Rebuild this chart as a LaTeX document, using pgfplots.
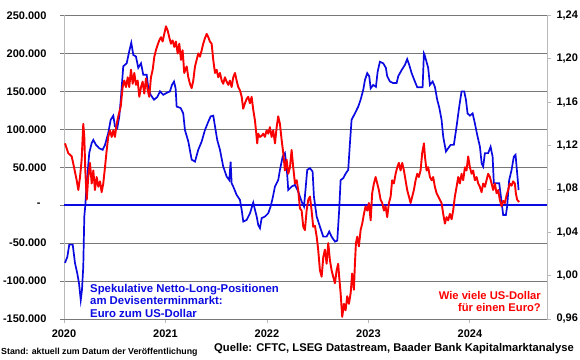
\documentclass[border=0pt]{standalone}
\usepackage{pgfplots}
\pgfplotsset{compat=1.18}
\usepackage{fontspec}
\setmainfont{Liberation Sans}
\definecolor{cblue}{RGB}{10,10,225}
\definecolor{cred}{RGB}{250,0,0}
\definecolor{gridgray}{RGB}{120,120,120}
\definecolor{axgray}{RGB}{185,185,185}
\begin{document}
\begin{tikzpicture}[x=1pt,y=1pt]
\useasboundingbox (0,0) rectangle (580,359);
\begin{axis}[
 at={(64pt,40pt)}, anchor=south west,
 width=483pt, height=303.5pt, scale only axis,
 xmin=2020, xmax=2024.76,
 ymin=-150000, ymax=250000,
 xtick={2020,2021,2022,2023,2024},
 xticklabels={2020,2021,2022,2023,2024},
 ytick={-150000,-100000,-50000,0,50000,100000,150000,200000,250000},
 yticklabels={-150.000,-100.000,-50.000,{-\hspace*{6pt}},50.000,100.000,150.000,200.000,250.000},
 scaled y ticks=false,
 ymajorgrids, grid style={gridgray, line width=0.7pt},
 axis x line*=bottom, axis y line*=left,
 x axis line style={gridgray, line width=0.7pt, -},
 y axis line style={axgray, line width=0.8pt, -},
 xtick style={axgray, line width=0.8pt},
 ytick style={gridgray, line width=0.7pt},
 tick align=outside, major tick length=4pt,
 ticklabel style={font=\bfseries\fontsize{11}{13}\selectfont},
 yticklabel style={xshift=-10pt},
 xticklabel style={yshift=-3pt},
]
\addplot[cblue, line width=1.5pt] coordinates {(2020,0) (2024.76,0)};
\addplot[cblue, line width=1.7pt] coordinates {
(2020.010,-76000) (2020.033,-68000) (2020.052,-52000) (2020.086,-52000) (2020.108,-76000)
(2020.131,-90000) (2020.148,-103000) (2020.165,-125000) (2020.177,-112000) (2020.190,-81000)
(2020.200,-15000) (2020.210,0) (2020.224,29000) (2020.249,69000) (2020.273,82000)
(2020.289,86000) (2020.315,79500) (2020.348,75000) (2020.381,73000) (2020.404,79500)
(2020.436,95000) (2020.460,112500) (2020.486,118000) (2020.502,104000) (2020.525,101500)
(2020.545,117000) (2020.562,143000) (2020.584,183000) (2020.618,187000) (2020.643,203000)
(2020.663,214000) (2020.683,198000) (2020.709,196000) (2020.732,181000) (2020.759,187000)
(2020.781,172000) (2020.815,172000) (2020.831,154000) (2020.854,145500) (2020.887,139000)
(2020.919,142500) (2020.946,150000) (2020.978,145500) (2021.012,148000) (2021.044,150000)
(2021.064,158500) (2021.084,163000) (2021.100,154000) (2021.110,130000) (2021.150,128000)
(2021.175,121000) (2021.192,99000) (2021.225,84000) (2021.258,60000) (2021.291,57500)
(2021.323,73000) (2021.357,84000) (2021.389,99000) (2021.422,110000) (2021.445,117000)
(2021.471,118000) (2021.488,104000) (2021.510,86000) (2021.537,73000) (2021.569,51000)
(2021.603,37700) (2021.629,33000) (2021.642,57500) (2021.652,29000) (2021.668,24500)
(2021.701,13600) (2021.734,7000) (2021.751,-6200) (2021.767,-21600) (2021.800,-19400)
(2021.833,-10600) (2021.865,3400) (2021.882,-6200) (2021.899,-15000) (2021.914,-26000)
(2021.931,-30300) (2021.948,-17000) (2021.980,-15000) (2022.013,-10600) (2022.036,-1800)
(2022.056,9200) (2022.079,24500) (2022.111,33000) (2022.128,46500) (2022.155,64000)
(2022.177,68600) (2022.194,51000) (2022.210,20000) (2022.243,24500) (2022.276,26800)
(2022.308,18000) (2022.342,4700) (2022.365,-1800) (2022.374,11300) (2022.397,46500)
(2022.424,48800) (2022.450,44300) (2022.463,11300) (2022.490,-15000) (2022.522,-28200)
(2022.555,-41400) (2022.588,-41400) (2022.614,-34800) (2022.637,-41400) (2022.670,-48000)
(2022.693,-46700) (2022.712,-6200) (2022.726,33000) (2022.752,35600) (2022.778,42200)
(2022.801,46500) (2022.818,82000) (2022.834,112500) (2022.867,121000) (2022.900,130000)
(2022.923,139000) (2022.949,152000) (2022.966,165000) (2022.988,174000) (2023.008,170000)
(2023.022,154000) (2023.047,158500) (2023.074,156000) (2023.091,176000) (2023.113,189000)
(2023.146,187000) (2023.172,181000) (2023.185,170000) (2023.212,163000) (2023.244,161000)
(2023.278,161000) (2023.294,170000) (2023.327,178000) (2023.360,185000) (2023.382,192500)
(2023.402,185000) (2023.426,174000) (2023.458,163000) (2023.481,155500) (2023.534,155500)
(2023.547,200000) (2023.554,198000) (2023.589,181000) (2023.606,158500) (2023.633,163000)
(2023.655,156000) (2023.678,139000) (2023.698,128800) (2023.721,112500) (2023.737,90500)
(2023.764,70700) (2023.786,75000) (2023.810,79500) (2023.842,79500) (2023.869,104000)
(2023.895,130000) (2023.918,150000) (2023.944,150000) (2023.961,139000) (2023.977,121000)
(2024.000,118000) (2024.027,121000) (2024.049,108000) (2024.072,92700) (2024.099,77000)
(2024.116,55000) (2024.131,51000) (2024.148,68600) (2024.180,68600) (2024.204,77000)
(2024.224,64000) (2024.236,29000) (2024.289,29000) (2024.312,4700) (2024.328,-12800)
(2024.355,-12800) (2024.367,-1800) (2024.387,33000) (2024.411,46500) (2024.433,64000)
(2024.450,66300) (2024.466,42200) (2024.480,20000)
};
\end{axis}
\begin{axis}[
 at={(64pt,40pt)}, anchor=south west,
 width=483pt, height=303.5pt, scale only axis,
 xmin=2020, xmax=2024.76,
 ymin=0.96, ymax=1.24,
 axis x line=none, axis y line*=right,
 ytick={0.96,1.00,1.04,1.08,1.12,1.16,1.20,1.24},
 yticklabels={{0,96},{1,00},{1,04},{1,08},{1,12},{1,16},{1,20},{1,24}},
 y axis line style={axgray, line width=0.8pt, -},
 tick style={axgray, line width=0.8pt},
 tick align=outside, major tick length=4pt,
 ticklabel style={font=\bfseries\fontsize{11}{13}\selectfont},
 yticklabel style={xshift=2pt},
]
\addplot[cred, line width=1.9pt, line join=round] coordinates {
(2020.010,1.122) (2020.042,1.113) (2020.076,1.110) (2020.099,1.100) (2020.125,1.088)
(2020.141,1.079) (2020.158,1.091) (2020.174,1.107) (2020.190,1.140) (2020.200,1.128)
(2020.210,1.097) (2020.224,1.070) (2020.239,1.091) (2020.256,1.104) (2020.273,1.085)
(2020.289,1.097) (2020.305,1.079) (2020.322,1.091) (2020.338,1.082) (2020.355,1.087)
(2020.371,1.077) (2020.387,1.085) (2020.404,1.100) (2020.421,1.116) (2020.436,1.128)
(2020.453,1.134) (2020.470,1.128) (2020.486,1.134) (2020.502,1.128) (2020.519,1.140)
(2020.535,1.147) (2020.559,1.156) (2020.578,1.174) (2020.594,1.180) (2020.611,1.174)
(2020.628,1.183) (2020.643,1.174) (2020.660,1.190) (2020.677,1.177) (2020.693,1.187)
(2020.709,1.176) (2020.726,1.180) (2020.742,1.165) (2020.759,1.174) (2020.775,1.179)
(2020.791,1.168) (2020.808,1.182) (2020.825,1.171) (2020.840,1.165) (2020.857,1.183)
(2020.874,1.190) (2020.890,1.202) (2020.906,1.208) (2020.923,1.213) (2020.939,1.217)
(2020.956,1.220) (2020.972,1.216) (2020.988,1.223) (2021.005,1.230) (2021.022,1.226)
(2021.037,1.220) (2021.054,1.214) (2021.071,1.217) (2021.087,1.211) (2021.103,1.216)
(2021.120,1.205) (2021.136,1.214) (2021.153,1.199) (2021.169,1.208) (2021.185,1.187)
(2021.209,1.193) (2021.225,1.183) (2021.241,1.177) (2021.258,1.173) (2021.274,1.180)
(2021.291,1.193) (2021.307,1.199) (2021.323,1.205) (2021.340,1.202) (2021.357,1.208)
(2021.372,1.214) (2021.389,1.219) (2021.406,1.223) (2021.422,1.220) (2021.438,1.216)
(2021.455,1.214) (2021.471,1.199) (2021.488,1.187) (2021.504,1.190) (2021.520,1.183)
(2021.537,1.187) (2021.554,1.180) (2021.569,1.177) (2021.586,1.183) (2021.603,1.179)
(2021.619,1.176) (2021.635,1.180) (2021.652,1.174) (2021.668,1.183) (2021.685,1.187)
(2021.701,1.180) (2021.717,1.174) (2021.734,1.171) (2021.751,1.165) (2021.766,1.154)
(2021.783,1.159) (2021.800,1.163) (2021.816,1.165) (2021.832,1.159) (2021.849,1.165)
(2021.865,1.153) (2021.882,1.143) (2021.892,1.134) (2021.904,1.122) (2021.914,1.131)
(2021.931,1.128) (2021.948,1.129) (2021.963,1.131) (2021.980,1.128) (2021.997,1.134)
(2022.013,1.131) (2022.029,1.137) (2022.046,1.128) (2022.062,1.134) (2022.079,1.122)
(2022.096,1.137) (2022.111,1.147) (2022.128,1.140) (2022.145,1.125) (2022.161,1.113)
(2022.177,1.097) (2022.194,1.107) (2022.210,1.094) (2022.227,1.100) (2022.243,1.116)
(2022.259,1.100) (2022.276,1.085) (2022.293,1.088) (2022.308,1.079) (2022.325,1.062)
(2022.342,1.060) (2022.358,1.045) (2022.374,1.042) (2022.391,1.060) (2022.407,1.070)
(2022.424,1.073) (2022.440,1.060) (2022.456,1.045) (2022.473,1.046) (2022.490,1.036)
(2022.505,1.024) (2022.522,1.005) (2022.539,0.999) (2022.555,1.017) (2022.571,1.024)
(2022.588,1.011) (2022.604,1.030) (2022.621,1.014) (2022.637,1.005) (2022.653,0.999)
(2022.670,0.993) (2022.687,1.005) (2022.702,1.011) (2022.712,0.999) (2022.726,0.984)
(2022.742,0.962) (2022.759,0.974) (2022.775,0.968) (2022.791,0.981) (2022.808,0.974)
(2022.825,0.984) (2022.840,1.002) (2022.857,0.987) (2022.867,1.011) (2022.877,1.030)
(2022.890,1.036) (2022.906,1.027) (2022.923,1.042) (2022.939,1.048) (2022.956,1.057)
(2022.972,1.064) (2022.988,1.060) (2023.005,1.067) (2023.022,1.051) (2023.037,1.076)
(2023.054,1.085) (2023.071,1.091) (2023.087,1.085) (2023.103,1.079) (2023.120,1.070)
(2023.136,1.067) (2023.153,1.060) (2023.169,1.064) (2023.185,1.054) (2023.202,1.067)
(2023.219,1.073) (2023.234,1.088) (2023.251,1.085) (2023.268,1.094) (2023.284,1.100)
(2023.300,1.104) (2023.317,1.097) (2023.333,1.104) (2023.350,1.097) (2023.366,1.088)
(2023.382,1.079) (2023.399,1.073) (2023.416,1.067) (2023.432,1.073) (2023.448,1.079)
(2023.465,1.088) (2023.481,1.094) (2023.497,1.091) (2023.514,1.097) (2023.530,1.113)
(2023.547,1.122) (2023.557,1.110) (2023.573,1.097) (2023.589,1.100) (2023.606,1.091)
(2023.623,1.088) (2023.638,1.091) (2023.655,1.082) (2023.672,1.076) (2023.688,1.073)
(2023.704,1.070) (2023.721,1.067) (2023.737,1.057) (2023.754,1.048) (2023.770,1.054)
(2023.786,1.051) (2023.803,1.057) (2023.820,1.052) (2023.835,1.060) (2023.852,1.073)
(2023.869,1.082) (2023.885,1.091) (2023.901,1.085) (2023.918,1.094) (2023.934,1.088)
(2023.951,1.100) (2023.967,1.097) (2023.983,1.110) (2024.000,1.100) (2024.017,1.094)
(2024.032,1.097) (2024.049,1.088) (2024.066,1.091) (2024.082,1.085) (2024.098,1.082)
(2024.115,1.077) (2024.131,1.085) (2024.148,1.082) (2024.164,1.088) (2024.180,1.094)
(2024.197,1.091) (2024.214,1.085) (2024.229,1.079) (2024.246,1.085) (2024.263,1.076)
(2024.279,1.079) (2024.295,1.070) (2024.312,1.064) (2024.328,1.069) (2024.345,1.067)
(2024.361,1.074) (2024.377,1.079) (2024.394,1.085) (2024.411,1.083) (2024.426,1.087)
(2024.443,1.085) (2024.453,1.076) (2024.466,1.070) (2024.486,1.068)
};
\end{axis}
\node[anchor=north west, align=left, text=cblue, inner sep=0pt,
 font=\bfseries\fontsize{11.35}{12.5}\selectfont] at (90,75)
 {Spekulative Netto-Long-Positionen\\am Devisenterminmarkt:\\Euro zum US-Dollar};
\node[anchor=north east, align=right, text=cred, inner sep=0pt,
 font=\bfseries\fontsize{11.2}{12.3}\selectfont] at (541,68)
 {Wie viele US-Dollar\\für einen Euro?};
\node[anchor=west, inner sep=0pt, font=\bfseries\fontsize{8.8}{10}\selectfont] at (1,7)
 {Stand: aktuell zum Datum der Veröffentlichung};
\node[anchor=east, inner sep=0pt, font=\bfseries\fontsize{11.2}{13}\selectfont] at (574,10)
 {Quelle: CFTC, LSEG Datastream, Baader Bank Kapitalmarktanalyse};
\end{tikzpicture}
\end{document}
